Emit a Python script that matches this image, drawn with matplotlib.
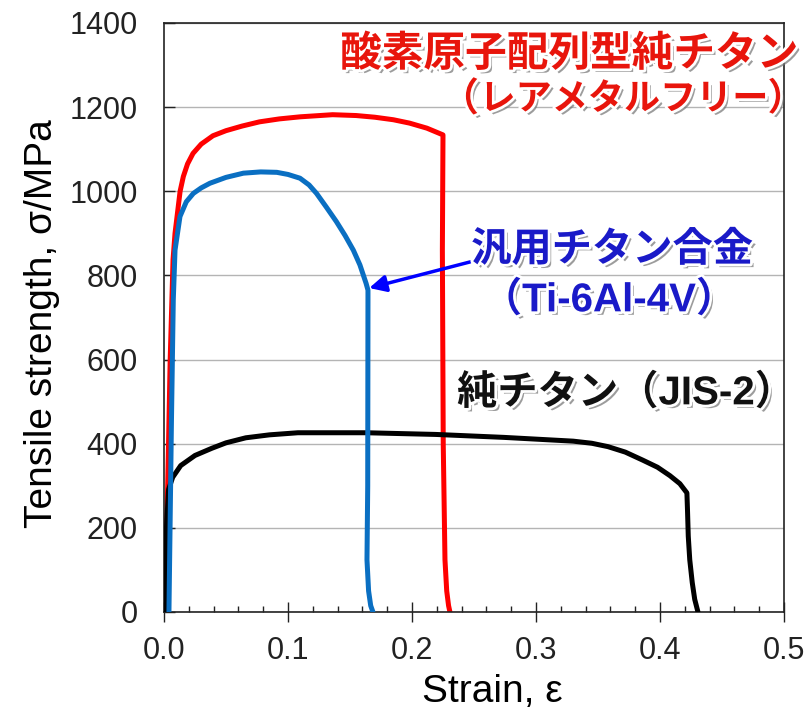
import matplotlib
matplotlib.use("Agg")
import matplotlib.pyplot as plt
import matplotlib.patheffects as pe
from matplotlib.ticker import MultipleLocator

plt.rcParams['font.family'] = ['Liberation Sans', 'Noto Sans CJK JP', 'DejaVu Sans']

# Oxygen-arranged pure titanium (rare-metal free) - red
red_strain = [0.0, 0.003, 0.005, 0.0073, 0.0089, 0.013, 0.0156, 0.019, 0.0234, 0.03,
              0.0395, 0.05, 0.063, 0.077, 0.093, 0.11, 0.136, 0.155, 0.17, 0.185,
              0.198, 0.212, 0.225, 0.2245, 0.2252, 0.2266, 0.228, 0.2295, 0.2306]
red_stress = [0, 300, 600, 837, 900, 1000, 1035, 1065, 1090, 1112,
              1132, 1144, 1155, 1165, 1172, 1177, 1182, 1180, 1176, 1170,
              1162, 1150, 1134, 860, 400, 124, 50, 15, 0]

# Ti-6Al-4V - blue
blue_strain = [0.004, 0.006, 0.0075, 0.0089, 0.0129, 0.018, 0.0237, 0.03, 0.037, 0.05,
               0.064, 0.078, 0.091, 0.1, 0.1097, 0.117, 0.123, 0.131, 0.139, 0.146,
               0.1527, 0.158, 0.163, 0.1645, 0.1645, 0.1643, 0.1637, 0.165, 0.1667, 0.1685]
blue_stress = [0, 450, 742, 860, 940, 975, 995, 1008, 1019, 1033,
               1043, 1046, 1045, 1040, 1031, 1015, 995, 962, 928, 895,
               860, 825, 781, 765, 742, 300, 124, 50, 15, 0]

# Pure titanium JIS-2 - black
black_strain = [0.001, 0.002, 0.0037, 0.007, 0.0135, 0.025, 0.0385, 0.05, 0.066, 0.085,
                0.108, 0.163, 0.219, 0.274, 0.33, 0.345, 0.358, 0.372, 0.386, 0.398,
                0.408, 0.416, 0.4217, 0.4222, 0.4228, 0.424, 0.426, 0.428, 0.4306]
black_stress = [0, 200, 291, 320, 348, 372, 389, 402, 414, 421,
                426, 426, 422, 415, 406, 401, 393, 380, 361, 344,
                324, 305, 283, 240, 180, 124, 70, 30, 0]

yticks = [0, 200, 400, 600, 800, 1000, 1200, 1400]
xticks = [0.0, 0.1, 0.2, 0.3, 0.4, 0.5]
xticklabels = ["0.0", "0.1", "0.2", "0.3", "0.4", "0.5"]

label_red_1 = "酸素原子配列型純チタン"
label_red_2 = ["（", "レアメタルフリー", "）"]
label_blue = ["汎用チタン合金", "（Ti-6Al-4V）"]
label_black = "純チタン（JIS-2）"

fig = plt.figure(figsize=(8.07, 7.16), dpi=100)
ax = fig.add_axes([0.2032, 0.1453, 0.7683, 0.8226])

kw = dict(lw=3.6, solid_capstyle='round', solid_joinstyle='round')
ax.plot(black_strain, black_stress, color='black', zorder=3, **kw)
ax.plot(blue_strain, blue_stress, color='#0a6fc2', zorder=4, **kw)
ax.plot(red_strain, red_stress, color='#ff0000', zorder=2, **kw)

ax.set_xlim(0, 0.5)
ax.set_ylim(0, 1400)
ax.set_yticks(yticks)
ax.set_xticks(xticks)
ax.set_xticklabels(xticklabels)
ax.xaxis.set_minor_locator(MultipleLocator(0.02))
ax.yaxis.grid(True, color='#b4b4b4', lw=1.0)
ax.set_axisbelow(True)

ax.tick_params(axis='y', which='major', direction='in', length=8, width=1.0,
               pad=19, labelsize=22, colors='#222222')
ax.tick_params(axis='x', which='major', direction='inout', length=14, width=1.0,
               pad=10, labelsize=22, colors='#222222')
ax.tick_params(axis='x', which='minor', direction='in', length=4.5, width=1.0, colors='#222222')
for s in ax.spines.values():
    s.set_linewidth(1.2)
    s.set_color('#222222')

ax.set_ylabel("Tensile strength, σ/MPa", fontsize=28)
ax.set_xlabel("Strain, ε", fontsize=28)
ax.yaxis.set_label_coords(-0.168, 0.49)
ax.xaxis.set_label_coords(0.53, -0.105)

effects = [pe.withSimplePatchShadow(offset=(2.5, -2.5), shadow_rgbFace=(0.45, 0.45, 0.45), alpha=0.7),
           pe.withStroke(linewidth=4, foreground='white')]

def ftext(px, py, s, color, size=29, ha='center'):
    fig.text(px / 807, 1 - py / 716, s, color=color, fontsize=size, fontweight='bold',
             ha=ha, va='center', path_effects=effects, zorder=10)

red_c = '#e8150c'
ftext(569, 55, label_red_1, red_c, size=30)
ftext(479, 100, label_red_2[0], red_c, size=28, ha='right')
ftext(624, 100, label_red_2[1], red_c, size=26)
ftext(805, 100, label_red_2[2], red_c, size=27, ha='right')
ftext(612, 250, label_blue[0], '#1a1ac8')
ftext(609, 300, label_blue[1], '#1a1ac8')
ftext(626, 393, label_black, '#111111')

ax.annotate("", xy=(0.1655, 770), xytext=(0.2468, 832),
            arrowprops=dict(arrowstyle='-|>', color='#0000ff', lw=2.5,
                            mutation_scale=25, shrinkA=0, shrinkB=0), zorder=6)

fig.savefig("out.png", dpi=100, facecolor='white')
